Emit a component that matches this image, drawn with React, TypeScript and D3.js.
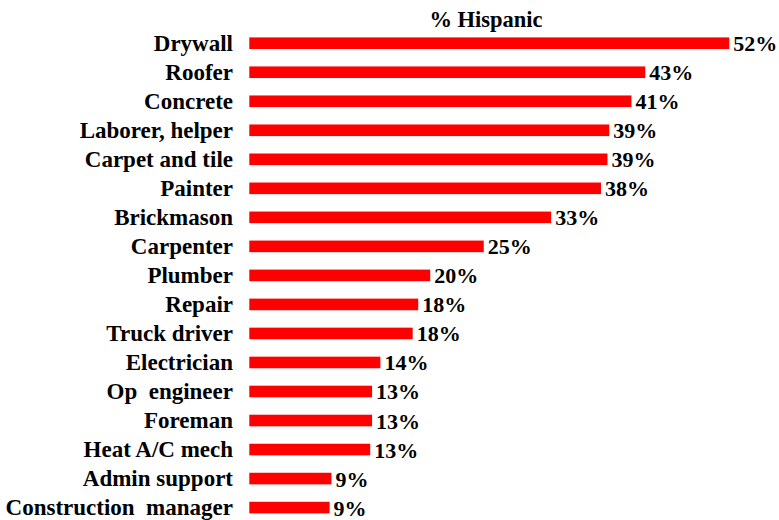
import React from "react";
import * as d3 from "d3";

const categories = [
  "Drywall",
  "Roofer",
  "Concrete",
  "Laborer, helper",
  "Carpet and tile",
  "Painter",
  "Brickmason",
  "Carpenter",
  "Plumber",
  "Repair",
  "Truck driver",
  "Electrician",
  "Op  engineer",
  "Foreman",
  "Heat A/C mech",
  "Admin support",
  "Construction  manager",
];

const values = [52, 42.9, 41.4, 39.0, 38.8, 38.1, 32.7, 25.4, 19.6, 18.3, 17.7, 14.2, 13.3, 13.3, 13.1, 8.9, 8.7];

const valueLabels = ["52%", "43%", "41%", "39%", "39%", "38%", "33%", "25%", "20%", "18%", "18%", "14%", "13%", "13%", "13%", "9%", "9%"];

const title = "% Hispanic";

const W = 779;
const H = 520;

export default function App() {
  const x = d3.scaleLinear().domain([0, 52]).range([249.3, 729.3]);
  const y = d3
    .scaleBand<string>()
    .domain(categories)
    .range([28.7, 522.1])
    .paddingInner(0.6)
    .paddingOuter(0.3);
  const bw = y.bandwidth();
  const font = "'Liberation Serif', 'Times New Roman', serif";

  return (
    <svg
      width={W}
      height={H}
      style={{ position: "absolute", left: 0, top: 0, background: "#fff" }}
    >
      <text
        x={486}
        y={27.3}
        textAnchor="middle"
        fontFamily={font}
        fontWeight="bold"
        fontSize={22.5}
        fill="#000"
      >
        {title}
      </text>
      {categories.map((c, i) => {
        const yc = (y(c) as number) + bw / 2;
        return (
          <g key={c}>
            <rect x={x(0)} y={y(c)} width={x(values[i]) - x(0)} height={bw} fill="#ff0000" />
            <text
              x={233}
              y={yc + 7.5}
              textAnchor="end"
              fontFamily={font}
              fontWeight="bold"
              fontSize={23}
              fill="#000"
              style={{ whiteSpace: "pre" }}
            >
              {c}
            </text>
            <text
              x={x(values[i]) + 4}
              y={yc + 8}
              fontFamily={font}
              fontWeight="bold"
              fontSize={22}
              fill="#000"
            >
              {valueLabels[i]}
            </text>
          </g>
        );
      })}
    </svg>
  );
}
